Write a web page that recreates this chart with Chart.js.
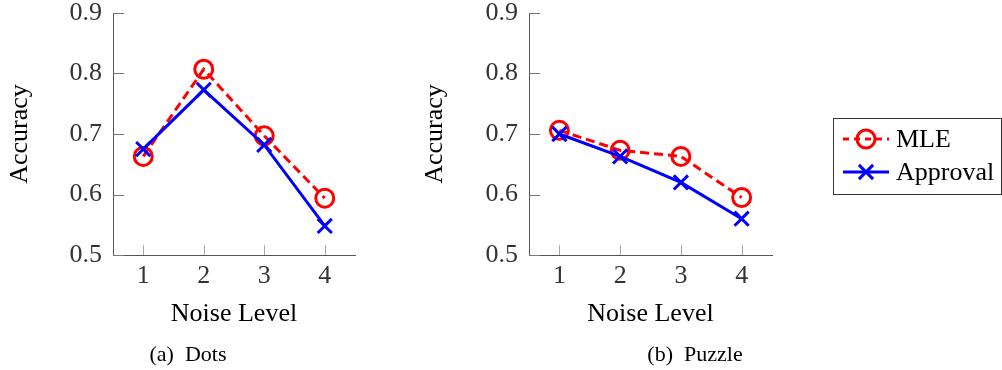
<!DOCTYPE html>
<html>
<head>
<meta charset="utf-8">
<script src="https://cdn.jsdelivr.net/npm/chart.js@4/dist/chart.umd.min.js"></script>
<style>
body { margin: 0; background: #fff; width: 1002px; height: 370px; position: relative; overflow: hidden; }
.panel { position: absolute; top: 0; height: 370px; }
</style>
</head>
<body>
<div class="panel" style="left:0;width:410px"><canvas id="dots"></canvas></div>
<div class="panel" style="left:410px;width:592px"><canvas id="puzzle"></canvas></div>
<script>
// x positions (noise levels) and y ticks
var noiseLevels = [1, 2, 3, 4];
var yTicks = [0.5, 0.6, 0.7, 0.8, 0.9];

// (a) Dots
var dotsMLE = [0.663, 0.807, 0.697, 0.594];
var dotsApproval = [0.675, 0.773, 0.682, 0.548];

// (b) Puzzle
var puzzleMLE = [0.706, 0.673, 0.663, 0.595];
var puzzleApproval = [0.700, 0.663, 0.620, 0.560];

var serif = "'Liberation Serif', 'Times New Roman', serif";

function points(vals) {
  return noiseLevels.map(function (x, i) { return { x: x, y: vals[i] }; });
}

function makeDatasets(mle, approval) {
  return [
    {
      label: 'MLE',
      data: points(mle),
      borderColor: '#ff0000',
      borderWidth: 3,
      borderDash: [9, 5],
      pointStyle: 'circle',
      pointRadius: 9,
      pointBorderWidth: 3,
      pointBackgroundColor: 'rgba(0,0,0,0)',
      pointBorderColor: '#ff0000',
      order: 2
    },
    {
      label: 'Approval',
      data: points(approval),
      borderColor: '#0000ff',
      borderWidth: 3,
      pointStyle: 'crossRot',
      pointRadius: 10,
      pointBorderWidth: 3,
      pointBorderColor: '#0000ff',
      order: 1
    }
  ];
}

function makeScales(yWidth, yTitlePad) {
  return {
    x: {
      type: 'linear', min: 0.5, max: 4.5,
      afterBuildTicks: function (s) { s.ticks = noiseLevels.map(function (v) { return { value: v }; }); },
      afterFit: function (s) { s.height = 115; s.paddingLeft = 0; s.paddingRight = 0; },
      grid: { drawOnChartArea: false, drawTicks: false },
      border: { color: '#555', width: 1 },
      ticks: { padding: 6, color: '#333', font: { family: serif, size: 26 } },
      title: { display: true, text: 'Noise Level', color: '#000', font: { family: serif, size: 26 }, padding: { top: 0, bottom: 40 } }
    },
    y: {
      type: 'linear', min: 0.5, max: 0.9,
      afterBuildTicks: function (s) { s.ticks = yTicks.map(function (v) { return { value: v }; }); },
      afterFit: function (s) { s.width = yWidth; s.paddingTop = 0; s.paddingBottom = 0; },
      grid: { drawOnChartArea: false, drawTicks: false },
      border: { color: '#555', width: 1 },
      ticks: { padding: 11, color: '#333', font: { family: serif, size: 26 }, callback: function (v) { return v.toFixed(1); } },
      title: { display: true, text: 'Accuracy', color: '#000', font: { family: serif, size: 26 }, padding: { top: yTitlePad, bottom: 0 } }
    }
  };
}

// small inward tick marks like pgfplots
var innerTicks = {
  id: 'innerTicks',
  beforeDatasetsDraw: function (chart) {
    var ctx = chart.ctx, a = chart.chartArea, x = chart.scales.x, y = chart.scales.y;
    ctx.save();
    ctx.lineWidth = 1;
    ctx.strokeStyle = '#aaa';
    x.ticks.forEach(function (t) {
      var px = Math.round(x.getPixelForValue(t.value)) + 0.5;
      ctx.beginPath(); ctx.moveTo(px, a.bottom); ctx.lineTo(px, a.bottom - 10); ctx.stroke();
    });
    ctx.strokeStyle = '#777';
    y.ticks.forEach(function (t) {
      var py = Math.round(y.getPixelForValue(t.value)) + 0.5;
      ctx.beginPath(); ctx.moveTo(a.left, py); ctx.lineTo(a.left + 11, py); ctx.stroke();
    });
    ctx.restore();
  }
};

// sub-figure caption under each plot
var caption = {
  id: 'caption',
  afterDraw: function (chart, args, opts) {
    var ctx = chart.ctx;
    ctx.save();
    ctx.font = '22px ' + serif;
    ctx.fillStyle = '#000';
    ctx.textAlign = 'center';
    ctx.textBaseline = 'middle';
    ctx.fillText(opts.text, opts.x, opts.y);
    ctx.restore();
  }
};

// boxed legend with line + marker samples
var boxLegend = {
  id: 'boxLegend',
  afterDraw: function (chart, args, opts) {
    if (!opts.show) return;
    var ctx = chart.ctx;
    ctx.save();
    ctx.strokeStyle = '#333';
    ctx.lineWidth = 1;
    ctx.strokeRect(opts.left + 0.5, opts.top + 0.5, opts.width, opts.height);
    chart.data.datasets.forEach(function (ds, i) {
      var cy = opts.top + 21 + i * 33;
      var x0 = opts.left + 10, x1 = x0 + 46, cx = (x0 + x1) / 2;
      ctx.strokeStyle = ds.borderColor;
      ctx.lineWidth = ds.borderWidth;
      ctx.setLineDash(ds.borderDash ? [6, 5] : []);
      ctx.beginPath(); ctx.moveTo(x0, cy); ctx.lineTo(x1, cy); ctx.stroke();
      ctx.setLineDash([]);
      ctx.fillStyle = 'rgba(0,0,0,0)';
      ctx.lineWidth = ds.pointBorderWidth;
      Chart.helpers.drawPoint(ctx, { pointStyle: ds.pointStyle, radius: ds.pointRadius, borderWidth: ds.pointBorderWidth, rotation: 0 }, cx, cy);
      ctx.fillStyle = '#000';
      ctx.font = '26px ' + serif;
      ctx.textAlign = 'left';
      ctx.textBaseline = 'middle';
      ctx.fillText(ds.label, x1 + 7, cy + 1);
    });
    ctx.restore();
  }
};

function makeChart(id, mle, approval, rightPad, yWidth, yTitlePad, cap, legend) {
  return new Chart(document.getElementById(id), {
    type: 'line',
    data: { datasets: makeDatasets(mle, approval) },
    options: {
      responsive: true,
      maintainAspectRatio: false,
      animation: false,
      events: [],
      layout: { padding: { top: 13, right: rightPad, bottom: 0, left: 0 } },
      scales: makeScales(yWidth, yTitlePad),
      plugins: {
        legend: { display: false },
        tooltip: { enabled: false },
        caption: cap,
        boxLegend: legend
      }
    },
    plugins: [innerTicks, caption, boxLegend]
  });
}

makeChart('dots', dotsMLE, dotsApproval, 55, 113, 5,
  { text: '(a)\u2002Dots', x: 188, y: 355 }, { show: false });
makeChart('puzzle', puzzleMLE, puzzleApproval, 230, 119, 10,
  { text: '(b)\u2002Puzzle', x: 285, y: 355 },
  { show: true, left: 423, top: 118, width: 168, height: 76 });
</script>
</body>
</html>
